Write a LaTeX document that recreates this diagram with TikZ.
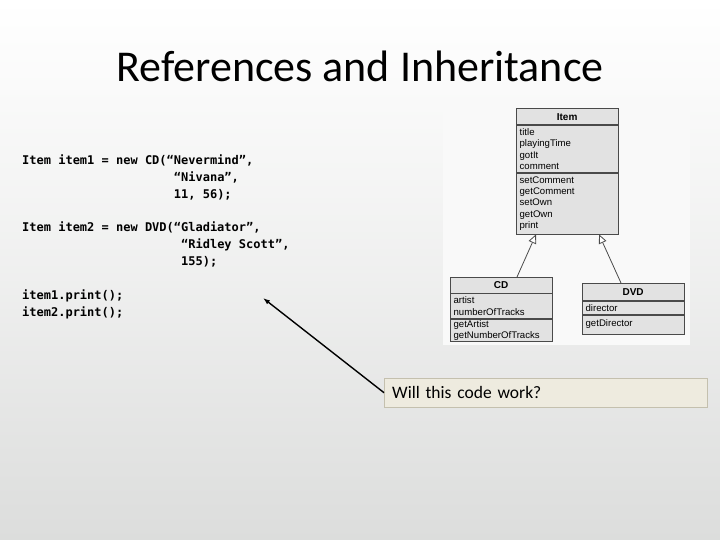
\documentclass[tikz,border=0pt]{standalone}
\usepackage{fontspec}
\setmainfont{Carlito}
\setsansfont{Liberation Sans}
\setmonofont{DejaVu Sans Mono}
\usepackage{xcolor}
\usepackage{tikz}
\usetikzlibrary{arrows.meta, calc, shadows}
\definecolor{umlfill}{HTML}{E2E2E2}
\definecolor{umlline}{HTML}{4A4A4A}
\definecolor{notefill}{HTML}{EEEBDF}
\definecolor{noteline}{HTML}{C4C0AE}
\definecolor{slidebottom}{HTML}{DCDDDC}
\tikzset{umlbox/.style={draw=umlline, fill=umlfill, line width=0.8pt,
        minimum width=101.5pt, inner xsep=3pt, inner ysep=0pt,
        anchor=north, text width=95pt, align=left,
        font=\sffamily\fontsize{9.6}{11.3}\selectfont},
    umlhead/.style={umlbox, anchor=north west, align=center,
        font=\sffamily\bfseries\fontsize{10}{12}\selectfont},
    shadowed/.style={drop shadow={shadow xshift=1.5pt, shadow yshift=-1.5pt,
        fill=black, opacity=.6}},
    inherit/.style={draw=umlline, line width=0.8pt,
        -{Triangle[open, length=9pt, width=8pt, fill=white]}},
    code/.style={anchor=north west, align=left, inner sep=0pt,
        font=\ttfamily\bfseries\fontsize{12}{17}\selectfont},
    note/.style={draw=noteline, fill=notefill, anchor=north west,
        minimum width=323pt, minimum height=29pt, inner xsep=8pt,
        text width=307pt, align=left, font=\fontsize{17.5}{19}\selectfont},
    pointer/.style={line width=1.4pt, -{Latex[length=7pt, width=5pt]}}}

\begin{document}
\begin{tikzpicture}[x=1pt, y=-1pt]
    % slide background
    \shade[top color=white, bottom color=slidebottom, middle color=white!55!slidebottom]
        (0,0) rectangle (720,540);
    \useasboundingbox (0,0) rectangle (720,540);
    \node[anchor=base, font=\fontsize{44}{48}\selectfont] (title) at (360,82)
        {References and Inheritance};

    % the code
    \node[code] (block1) at (22,155) {Item item1 = new CD(“Nevermind”,\\
        \hphantom{Item item1 = new CD(“}“Nivana”,\\
        \hphantom{Item item1 = new CD(“}11, 56);};
    \node[code] (block2) at (22,222) {Item item2 = new DVD(“Gladiator”,\\
        \hphantom{Item item2 = new DVD(“}“Ridley Scott”,\\
        \hphantom{Item item2 = new DVD(“}155);};
    \node[code] (block3) at (22,290) {item1.print();\\item2.print();};

    % class diagram
    \fill[gray!5] (443,105) rectangle (690,345);
    \node[umlhead, shadowed, minimum height=16.5pt] (item) at (516,108) {Item};
    \node[umlbox, shadowed, minimum height=107.5pt] (itemshadow) at (item.south) {};
    \node[umlbox, minimum height=46.5pt] (itemattr) at (item.south)
        {title\\playingTime\\gotIt\\comment};
    \node[umlbox, minimum height=61pt] (itemops) at (itemattr.south)
        {setComment\\getComment\\setOwn\\getOwn\\print};

    \node[umlhead, shadowed, minimum height=15.5pt] (cd) at (450,277) {CD};
    \node[umlbox, shadowed, minimum height=47pt] (cdshadow) at (cd.south) {};
    \node[umlbox, minimum height=24.5pt] (cdattr) at (cd.south)
        {artist\\numberOfTracks};
    \node[umlbox, minimum height=22.5pt] (cdops) at (cdattr.south)
        {getArtist\\getNumberOfTracks};

    \node[umlhead, shadowed, minimum height=17pt] (dvd) at (582,283) {DVD};
    \node[umlbox, shadowed, minimum height=32pt] (dvdshadow) at (dvd.south) {};
    \node[umlbox, minimum height=13pt] (dvdattr) at (dvd.south) {director};
    \node[umlbox, minimum height=19pt] (dvdops) at (dvdattr.south) {getDirector};

    \draw[inherit] ($(cd.north west)+(67,0)$) -- ($(itemops.south west)+(20,0)$);
    \draw[inherit] ($(dvd.north west)+(39,0)$) -- ($(itemops.south west)+(83,0)$);

    % question
    \node[note] (question) at (384,378) {Will this code work?};
    \coordinate (codeptr) at (263,298);
    \draw[pointer] (question.west) -- (codeptr);
\end{tikzpicture}
\end{document}
